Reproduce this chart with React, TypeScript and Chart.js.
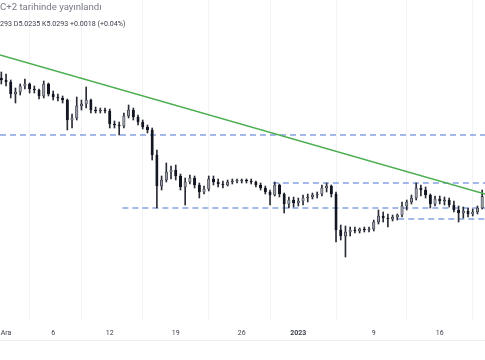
import React, { useEffect, useRef } from "react";
import { Chart, registerables } from "chart.js";

Chart.register(...registerables);

// 12-hour candles; day 1 = 1 Dec 2022
const firstCandleDay = 0.5;
const candleStepDays = 0.5;

const opens = [
  5.148, 5.146, 5.144, 5.132, 5.134, 5.140, 5.142, 5.137, 5.136, 5.130,
  5.142, 5.132, 5.129, 5.128, 5.126, 5.106, 5.108, 5.120, 5.122, 5.126,
  5.116, 5.115, 5.116, 5.115, 5.102, 5.101, 5.100, 5.110, 5.116, 5.109,
  5.104, 5.099, 5.096, 5.071, 5.040, 5.046, 5.054, 5.056, 5.050, 5.039,
  5.044, 5.048, 5.041, 5.034, 5.037, 5.047, 5.044, 5.042, 5.041, 5.044,
  5.045, 5.045, 5.046, 5.045, 5.044, 5.041, 5.038, 5.034, 5.031, 5.041,
  5.032, 5.022, 5.026, 5.023, 5.025, 5.028, 5.029, 5.031, 5.032, 5.038,
  5.040, 5.032, 4.996, 4.990, 4.994, 4.996, 4.995, 4.997, 4.996, 4.997,
  5.004, 5.010, 5.008, 5.007, 5.009, 5.011, 5.020, 5.024, 5.028, 5.038,
  5.036, 5.031, 5.022, 5.027, 5.025, 5.026, 5.021, 5.016, 5.013, 5.015,
  5.012, 5.014, 5.018,
];
const highs = [
  5.154, 5.152, 5.146, 5.138, 5.142, 5.147, 5.143, 5.140, 5.137, 5.145,
  5.143, 5.135, 5.132, 5.130, 5.127, 5.112, 5.129, 5.126, 5.139, 5.127,
  5.119, 5.118, 5.118, 5.117, 5.105, 5.104, 5.113, 5.121, 5.118, 5.111,
  5.106, 5.101, 5.098, 5.076, 5.050, 5.063, 5.060, 5.061, 5.052, 5.048,
  5.051, 5.050, 5.043, 5.040, 5.050, 5.050, 5.047, 5.045, 5.046, 5.047,
  5.047, 5.047, 5.047, 5.047, 5.045, 5.043, 5.040, 5.036, 5.044, 5.042,
  5.033, 5.029, 5.029, 5.028, 5.031, 5.032, 5.033, 5.034, 5.041, 5.043,
  5.041, 5.034, 5.001, 5.000, 4.999, 4.999, 4.998, 4.999, 4.999, 5.006,
  5.016, 5.014, 5.012, 5.011, 5.012, 5.024, 5.026, 5.031, 5.043, 5.041,
  5.039, 5.032, 5.030, 5.030, 5.029, 5.028, 5.025, 5.020, 5.019, 5.018,
  5.017, 5.020, 5.036,
];
const lows = [
  5.142, 5.140, 5.128, 5.123, 5.131, 5.137, 5.133, 5.133, 5.127, 5.128,
  5.130, 5.126, 5.125, 5.123, 5.096, 5.098, 5.106, 5.116, 5.118, 5.113,
  5.113, 5.113, 5.113, 5.098, 5.098, 5.091, 5.098, 5.108, 5.106, 5.101,
  5.097, 5.093, 5.066, 5.018, 5.036, 5.044, 5.047, 5.046, 5.036, 5.021,
  5.042, 5.038, 5.028, 5.032, 5.035, 5.041, 5.039, 5.038, 5.040, 5.042,
  5.043, 5.043, 5.043, 5.042, 5.039, 5.036, 5.032, 5.021, 5.030, 5.029,
  5.013, 5.018, 5.019, 5.020, 5.021, 5.024, 5.027, 5.028, 5.030, 5.034,
  5.029, 4.984, 4.986, 4.969, 4.990, 4.993, 4.993, 4.994, 4.994, 4.995,
  5.002, 5.004, 4.999, 5.005, 5.006, 5.009, 5.016, 5.022, 5.026, 5.030,
  5.028, 5.018, 5.020, 5.022, 5.021, 5.019, 5.014, 5.004, 5.008, 5.009,
  5.010, 5.012, 5.017,
];
const closes = [
  5.146, 5.144, 5.132, 5.134, 5.140, 5.142, 5.137, 5.136, 5.130, 5.142,
  5.132, 5.129, 5.128, 5.126, 5.106, 5.108, 5.120, 5.122, 5.126, 5.116,
  5.115, 5.116, 5.115, 5.102, 5.101, 5.100, 5.110, 5.116, 5.109, 5.104,
  5.099, 5.096, 5.071, 5.040, 5.046, 5.054, 5.056, 5.050, 5.039, 5.044,
  5.048, 5.041, 5.034, 5.037, 5.047, 5.044, 5.042, 5.041, 5.044, 5.045,
  5.045, 5.046, 5.045, 5.044, 5.041, 5.038, 5.034, 5.031, 5.041, 5.032,
  5.022, 5.026, 5.023, 5.025, 5.028, 5.029, 5.031, 5.032, 5.038, 5.040,
  5.032, 4.996, 4.990, 4.994, 4.996, 4.995, 4.997, 4.996, 4.997, 5.004,
  5.010, 5.008, 5.007, 5.009, 5.011, 5.020, 5.024, 5.028, 5.038, 5.036,
  5.031, 5.022, 5.027, 5.025, 5.026, 5.021, 5.016, 5.013, 5.015, 5.012,
  5.014, 5.018, 5.0293,
];

const tickDays = [1, 6, 12, 19, 26, 32, 40, 47];
const tickLabels = ["Ara", "6", "12", "19", "26", "2023", "9", "16"];
const boldTickDay = 32;

const viewStartDay = 0.36;
const viewEndDay = 51.8;
const priceMin = 4.906;
const priceMax = 5.226;

const trendDays = [0.36, 51.8];
const trendPrices = [5.171, 5.032];

const levelPrices = [5.091, 5.043, 5.018, 5.007];
const levelStartDays = [0.36, 29.3, 13.34, 42.6];

const headerLine1 = "C+2 tarihinde yayınlandı";
const headerLine2 = "293 D5.0235 K5.0293 +0.0018 (+0.04%)";

export default function App() {
  const ref = useRef<HTMLCanvasElement>(null);

  useEffect(() => {
    document.body.style.margin = "0";
    document.body.style.overflow = "hidden";
    const days = closes.map((_, i) => firstCandleDay + i * candleStepDays);
    const wickData = days.map((d, i) => ({ x: d, y: [lows[i], highs[i]] }));
    const bodyData = days.map((d, i) => ({ x: d, y: [opens[i], closes[i]] }));
    const bodyFill = days.map((_, i) => (closes[i] >= opens[i] ? "#9a9da6" : "#131722"));

    const levelSets = levelPrices.map((p, k) => ({
      type: "line" as const,
      data: [
        { x: levelStartDays[k], y: p },
        { x: viewEndDay, y: p },
      ],
      borderColor: "#4a74d6",
      borderWidth: 1.2,
      borderDash: [6, 4],
      pointRadius: 0,
      order: 5,
    }));

    const chart = new Chart(ref.current!, {
      type: "bar",
      data: {
        datasets: [
          {
            type: "line",
            data: trendDays.map((d, k) => ({ x: d, y: trendPrices[k] })),
            borderColor: "#4caf50",
            borderWidth: 1.6,
            pointRadius: 0,
            order: 0,
          } as any,
          ...levelSets,
          {
            type: "bar",
            data: wickData,
            backgroundColor: "#2a2d36",
            barThickness: 1,
            grouped: false,
            order: 3,
          } as any,
          {
            type: "bar",
            data: bodyData,
            backgroundColor: bodyFill,
            borderColor: "#131722",
            borderWidth: 0.6,
            borderSkipped: false,
            barThickness: 2.4,
            minBarLength: 1,
            grouped: false,
            order: 2,
          } as any,
        ],
      },
      options: {
        animation: false,
        responsive: true,
        maintainAspectRatio: false,
        events: [],
        layout: { padding: 0 },
        plugins: { legend: { display: false }, tooltip: { enabled: false } },
        scales: {
          x: {
            type: "linear",
            min: viewStartDay,
            max: viewEndDay,
            offset: false,
            border: { display: false },
            grid: { color: "rgba(42,46,57,0.06)", drawTicks: false },
            afterBuildTicks: (s: any) => {
              s.ticks = tickDays.map((v) => ({ value: v }));
            },
            afterFit: (s: any) => {
              s.height = 40;
              s.paddingLeft = 0;
              s.paddingRight = 0;
            },
            ticks: {
              autoSkip: false,
              maxRotation: 0,
              padding: 9,
              color: "#3c404b",
              font: (ctx: any) => ({
                family: "Roboto, 'Noto Sans', sans-serif",
                size: 7,
                weight: ctx.tick && ctx.tick.value === boldTickDay ? "bold" : "normal",
              }),
              callback: (v: any) => {
                const idx = tickDays.indexOf(Number(v));
                return idx >= 0 ? tickLabels[idx] : "";
              },
            },
          },
          y: { display: false, min: priceMin, max: priceMax },
        },
      } as any,
    });
    return () => chart.destroy();
  }, []);

  return (
    <div style={{ position: "relative", width: 485, height: 360, background: "#fff", overflow: "hidden" }}>
      <canvas ref={ref} />
      <div
        style={{
          position: "absolute",
          left: 0,
          top: 1,
          fontFamily: "Roboto, 'Noto Sans', sans-serif",
          fontSize: 9.6,
          color: "#787b86",
          whiteSpace: "nowrap",
          lineHeight: "11px",
        }}
      >
        {headerLine1}
      </div>
      <div
        style={{
          position: "absolute",
          left: 0,
          top: 19,
          fontFamily: "Roboto, 'Noto Sans', sans-serif",
          fontSize: 7.1,
          color: "#3c404b",
          whiteSpace: "nowrap",
          lineHeight: "10px",
        }}
      >
        {headerLine2}
      </div>
      <div style={{ position: "absolute", left: 0, top: 340, width: 485, height: 1, background: "#eceef2" }} />
    </div>
  );
}
